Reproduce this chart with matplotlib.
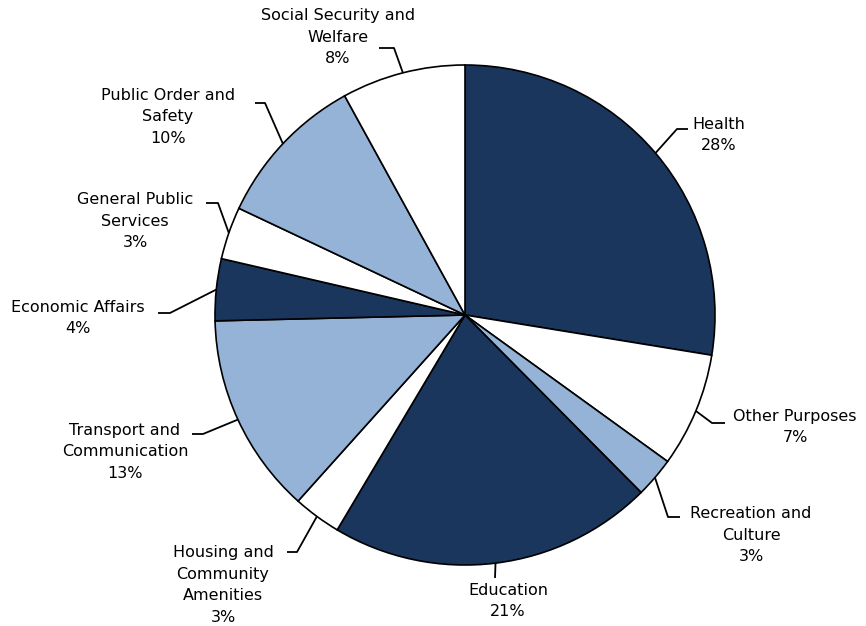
import numpy as np
import matplotlib
matplotlib.use('Agg')
import matplotlib.pyplot as plt

# spending shares, clockwise from 12 o'clock
categories = ['Health', 'Other Purposes', 'Recreation and\nCulture', 'Education',
              'Housing and\nCommunity\nAmenities', 'Transport and\nCommunication',
              'Economic Affairs', 'General Public\nServices',
              'Public Order and\nSafety', 'Social Security and\nWelfare']
values = [27.6, 7.4, 2.6, 21.0, 3.1, 13.0, 4.0, 3.4, 10.0, 8.0]

navy = '#1b365d'
light = '#95b3d7'
white = '#ffffff'
colors = [navy, white, light, navy, white, light, navy, white, light, white]

# label layout in pixel coords (y measured from the top): text centre, elbow, line end
text_pos = [(719, 135), (795, 427), (751, 535), (508, 601), (223, 585),
            (125, 452), (78, 318), (135, 221), (168, 117), (338, 37)]
elbows = [(677, 129), (712, 423), (668, 517), (495, 578), (297, 552),
          (203, 434), (170, 313), (218, 203), (265, 103), (394, 48)]
line_ends = [(688, 129), (725, 423), (680, 517), (495, 578), (287, 552),
             (192, 434), (158, 313), (206, 203), (255, 103), (379, 48)]

W, H = 866, 626
cx, cy, R = 465, 315, 250

fig = plt.figure(figsize=(W / 100, H / 100), dpi=100)
ax = fig.add_axes([0, 0, 1, 1])

wedges, _ = ax.pie(values, colors=colors, startangle=90, counterclock=False,
                   center=(cx, H - cy), radius=R,
                   wedgeprops=dict(edgecolor='black', linewidth=1.2))
ax.set_xlim(0, W)
ax.set_ylim(0, H)
ax.set_aspect('equal')
ax.axis('off')

total = sum(values)
for w, name, v, tp, el, le in zip(wedges, categories, values, text_pos, elbows, line_ends):
    mid = np.deg2rad((w.theta1 + w.theta2) / 2)
    sx = cx + R * np.cos(mid)
    sy = (H - cy) + R * np.sin(mid)
    ax.plot([sx, el[0], le[0]], [sy, H - el[1], H - le[1]], color='black', lw=1.3,
            solid_capstyle='butt')
    pct = round(v / total * 100)
    ax.text(tp[0], H - tp[1], f'{name}\n{pct}%', ha='center', va='center',
            multialignment='center', fontsize=11.5, linespacing=1.55,
            family=['DejaVu Sans'])

fig.savefig('out.png', dpi=100)
